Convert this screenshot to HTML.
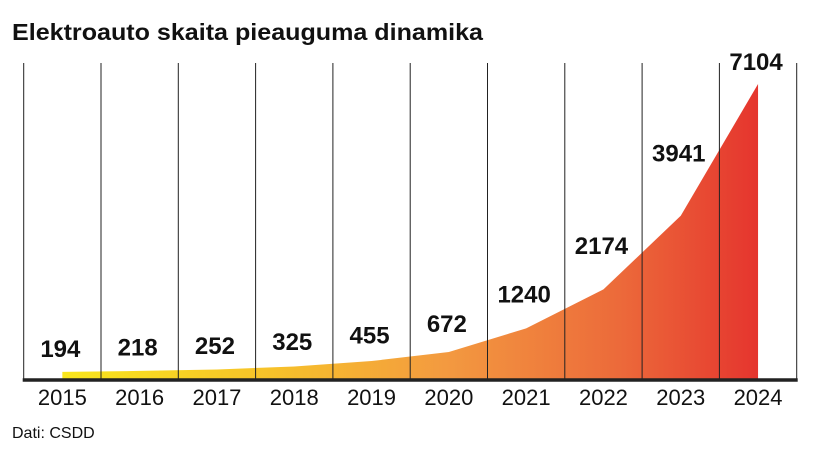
<!DOCTYPE html>
<html><head><meta charset="utf-8"><style>
body{margin:0;background:#fff;}
svg{display:block;font-family:"Liberation Sans",sans-serif;}
</style></head><body>
<svg id="chart" width="820" height="450" viewBox="0 0 820 450">
<defs><linearGradient id="g" x1="0" x2="1" y1="0" y2="0">
<stop offset="0" stop-color="#f8e61c"/><stop offset="0.3" stop-color="#f7c22a"/><stop offset="0.55" stop-color="#f39a40"/><stop offset="0.8" stop-color="#ec6a3a"/><stop offset="1" stop-color="#e5352e"/></linearGradient></defs>
<text x="12" y="40" font-size="23" font-weight="bold" fill="#111" textLength="471" lengthAdjust="spacingAndGlyphs">Elektroauto skaita pieauguma dinamika</text>
<g id="area"></g><g id="grid"></g><g id="labels"></g>
<text x="12" y="438" font-size="16" fill="#111">Dati: CSDD</text>
</svg>
<script>
const years = ["2015","2016","2017","2018","2019","2020","2021","2022","2023","2024"];
const values = [194,218,252,325,455,672,1240,2174,3941,7104];
const ns="http://www.w3.org/2000/svg";
const leftX=23.7, colW=77.3, baseY=380, topY=84, vmax=7104;
const xs=i=>leftX+colW*(i+0.5);
const ys=v=>baseY-(baseY-topY)*v/vmax;
function mk(t,a,p){const e=document.createElementNS(ns,t);for(const k in a)e.setAttribute(k,a[k]);p.appendChild(e);return e;}
const area=document.getElementById('area'),grid=document.getElementById('grid'),labels=document.getElementById('labels');
let d="M"+xs(0)+","+baseY;
values.forEach((v,i)=>{d+=" L"+xs(i)+","+ys(v);});
d+=" L"+xs(values.length-1)+","+baseY+" Z";
const p=mk('path',{d:d,fill:'url(#g)'},area);


for(let i=0;i<=years.length;i++){
  const l=mk('line',{x1:leftX+colW*i,x2:leftX+colW*i,y1:63,y2:baseY,stroke:'#222','stroke-width':1},grid);
  
  
}
const bl=mk('line',{x1:leftX-1,x2:leftX+colW*years.length+1,y1:baseY,y2:baseY,stroke:'#222','stroke-width':3.5},grid);


years.forEach((yr,i)=>{
  const t=mk('text',{x:xs(i),y:405,'font-size':22,'text-anchor':'middle',fill:'#111'},labels);
  t.textContent=yr;
  
  
  const py=ys(values[i]);
  const ly=Math.max(61,py-22-0.25*(baseY-py));
  const vt=mk('text',{x:xs(i)-2,y:ly+9,'font-size':24,'font-weight':'bold','text-anchor':'middle',fill:'#111'},labels);
  vt.textContent=values[i];
  
  
});
</script>
</body></html>
